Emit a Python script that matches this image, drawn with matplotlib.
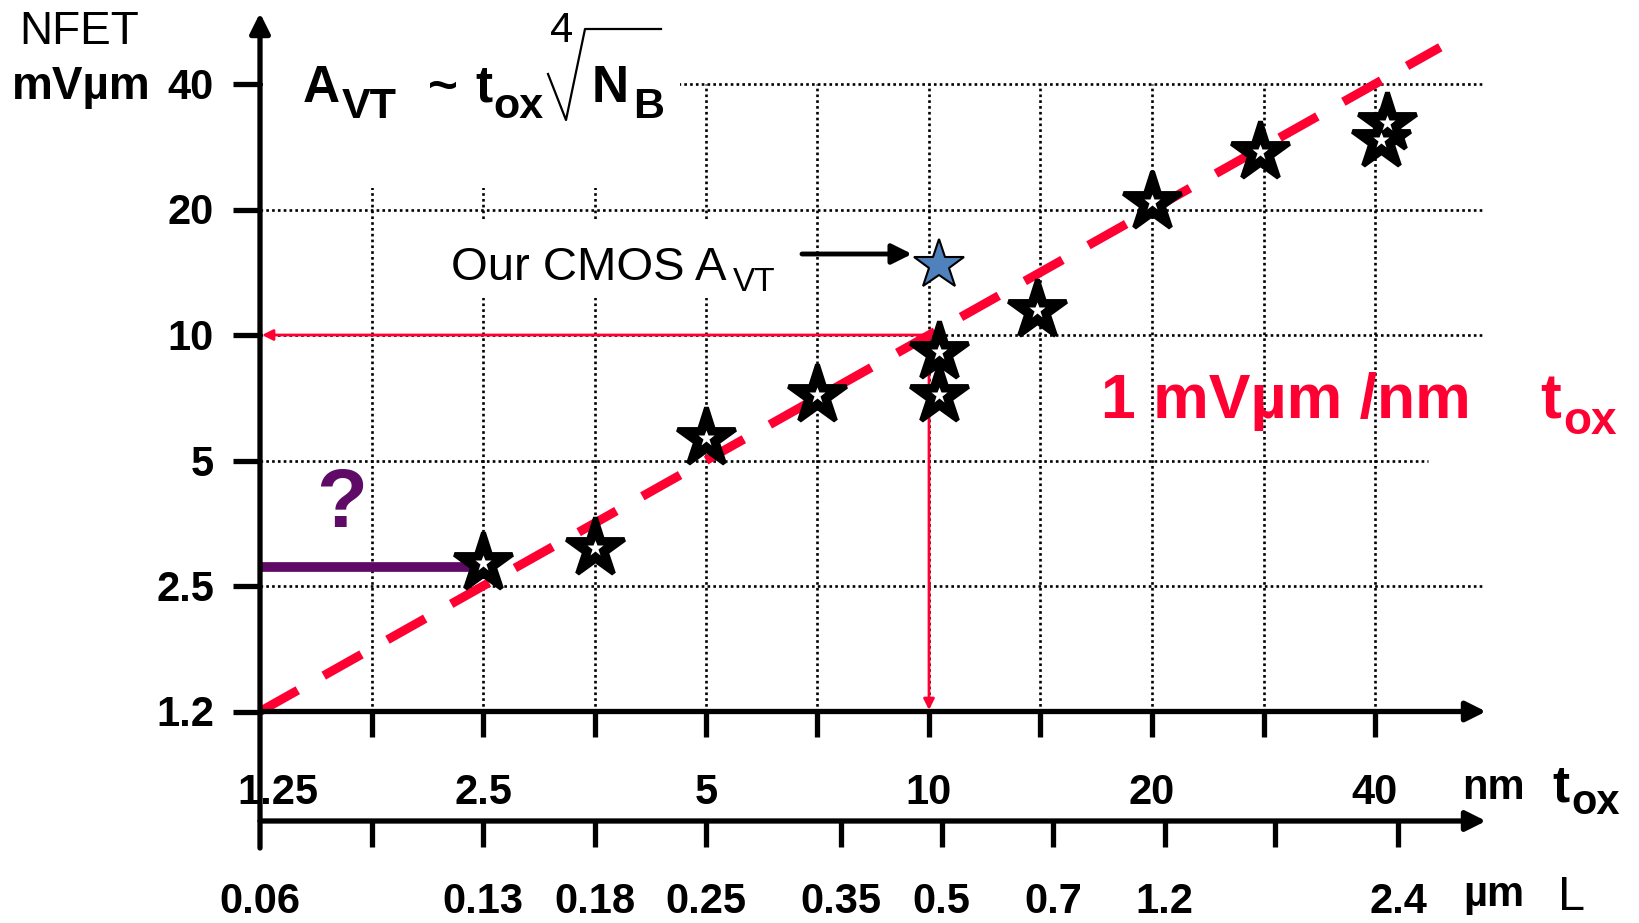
import numpy as np
import matplotlib
matplotlib.use('Agg')
import matplotlib.pyplot as plt
from matplotlib.patches import Rectangle
from matplotlib.lines import Line2D

plt.rcParams['font.family'] = ['Liberation Sans', 'DejaVu Sans']

# ---------------- data ----------------
tox_ticks = [1.25, 1.77, 2.5, 3.54, 5, 7.07, 10, 14.1, 20, 28.3, 40]
tox_labels = ['1.25', '', '2.5', '', '5', '', '10', '', '20', '', '40']
L_ticks = [1.25, 1.77, 2.5, 3.54, 5, 7.6, 10.4, 14.7, 20.8, 29.3, 43.0]
L_labels = ['0.06', '', '0.13', '0.18', '0.25', '0.35', '0.5', '0.7', '1.2', '', '2.4']
avt_ticks = [1.25, 2.5, 5, 10, 20, 40]
avt_labels = ['1.2', '2.5', '5', '10', '20', '40']

star_tox = [2.5, 3.54, 5.0, 7.07, 10.3, 10.3, 14.0, 20.0, 28.0, 41.5, 40.8]
star_avt = [2.84, 3.08, 5.65, 7.17, 9.12, 7.17, 11.5, 20.9, 27.5, 32.2, 29.3]
ours_tox = [10.3]
ours_avt = [14.7]
trend_tox = [1.25, 49.0]
trend_avt = [1.25, 49.0]
guide_tox = 10
guide_avt = 10
target_tox = [1.25, 2.41]
target_avt = [2.78, 2.78]

# ---------------- layout ----------------
W, H = 1640, 923
X0, SX = 260.0, 223.0      # px of tox=1.25, px per doubling
Y0, SY = 711.5, 125.5      # px (from top) of A=1.25, px per doubling


def px2x(px):
    return 1.25 * 2 ** ((px - X0) / SX)


def py2y(py):
    return 1.25 * 2 ** ((Y0 - py) / SY)


RED = '#ff0033'
PURPLE = '#5e0a66'

fig = plt.figure(figsize=(W / 100, H / 100), dpi=100)
ax = fig.add_axes([0, 0, 1, 1])
ax.set_xscale('log', base=2)
ax.set_yscale('log', base=2)
ax.set_xlim(px2x(0), px2x(W))
ax.set_ylim(py2y(H), py2y(0))
ax.axis('off')

dots = (0, (1, 1.2))
# grid
for a in avt_ticks[1:]:
    xend = px2x(1428) if a == 5 else px2x(1483)
    ax.plot([tox_ticks[0], xend], [a, a], color='k', lw=1.9, ls=dots, zorder=1)
for t in tox_ticks[1:]:
    ax.plot([t, t], [avt_ticks[0], avt_ticks[-1]], color='k', lw=1.9, ls=dots, zorder=1)

# white backgrounds behind annotations
ax.add_patch(Rectangle((263 / W, 1 - 188 / H), (680 - 263) / W, 188 / H,
                       transform=fig.transFigure, fc='white', ec='none', zorder=2))
ax.add_patch(Rectangle((440 / W, 1 - 298 / H), (795 - 440) / W, (298 - 222) / H,
                       transform=fig.transFigure, fc='white', ec='none', zorder=2))

# trend line
ax.plot(trend_tox, trend_avt, color=RED, lw=6.5, ls=(0, (4.8, 3.3)), zorder=3)

# red guide arrows
ap_red = dict(arrowstyle='-|>', color=RED, lw=2.0, mutation_scale=16, shrinkA=0, shrinkB=0)
ax.annotate('', xy=(px2x(262), guide_avt), xytext=(guide_tox, guide_avt), arrowprops=ap_red, zorder=4)
ax.annotate('', xy=(guide_tox, py2y(710)), xytext=(guide_tox, guide_avt), arrowprops=ap_red, zorder=4)

# purple target line
ax.plot(target_tox, target_avt, color=PURPLE, lw=7, solid_capstyle='butt', zorder=4)

# stars
ax.plot(star_tox, star_avt, ls='none', marker='*', ms=44, mfc='k', mec='k', mew=3.5, zorder=5)
ax.plot(star_tox, star_avt, ls='none', marker='*', ms=12, mfc='white', mec='none', zorder=6)
ax.plot(ours_tox, ours_avt, ls='none', marker='*', ms=38, mfc='#4f81bd', mec='k', mew=1.5, zorder=6)

# arrow to our star
ax.annotate('', xy=(px2x(912), py2y(254)), xytext=(px2x(802), py2y(254)),
            arrowprops=dict(arrowstyle='-|>', color='k', lw=3.5, mutation_scale=30,
                            shrinkA=0, shrinkB=0), zorder=6)

# axes
ap_ax = dict(arrowstyle='-|>', color='k', lw=3.8, mutation_scale=30, shrinkA=0, shrinkB=0)
yL = py2y(821)
ax.annotate('', xy=(px2x(1486), avt_ticks[0]), xytext=(tox_ticks[0], avt_ticks[0]), arrowprops=ap_ax, zorder=7)
ax.annotate('', xy=(px2x(1486), yL), xytext=(tox_ticks[0], yL), arrowprops=ap_ax, zorder=7)
ax.annotate('', xy=(tox_ticks[0], py2y(13)), xytext=(tox_ticks[0], py2y(848)), arrowprops=ap_ax, zorder=7)
ax.vlines(tox_ticks[1:], py2y(737), avt_ticks[0], color='k', lw=3.8, zorder=7)
ax.vlines(L_ticks[1:], py2y(847), yL, color='k', lw=3.8, zorder=7)
ax.hlines(avt_ticks, px2x(233), tox_ticks[0], color='k', lw=3.8, zorder=7)

# tick labels
for i, (t, lab) in enumerate(zip(tox_ticks, tox_labels)):
    xx = px2x(X0 + 18) if i == 0 else t
    ax.text(xx, py2y(804), lab, ha='center', va='baseline', fontsize=30, fontweight='bold', zorder=8)
for t, lab in zip(L_ticks, L_labels):
    ax.text(t, py2y(913), lab, ha='center', va='baseline', fontsize=30, fontweight='bold', zorder=8)
for a, lab in zip(avt_ticks, avt_labels):
    ax.text(px2x(214), a * 2 ** (-15 / SY), lab, ha='right', va='baseline', fontsize=30,
            fontweight='bold', zorder=8)


def T(x, y, s, size, weight='bold', color='k', ha='left'):
    fig.text(x / W, 1 - y / H, s, fontsize=size, fontweight=weight, color=color,
             ha=ha, va='baseline')


T(19, 44, 'NFET', 33, 'normal')
T(12, 99, 'mVµm', 33)

# formula  A_VT ~ t_ox 4th-root(N_B)
T(303, 102, 'A', 37)
T(342, 118, 'VT', 31)
T(428, 102, '~', 37)
T(475, 102, 't', 37)
T(493, 118, 'ox', 31)
T(592, 102, 'N', 37)
T(633, 118, 'B', 31)
T(562, 42, '4', 30, 'normal', ha='center')
rx = np.array([548, 566, 585, 661])
ry = np.array([74, 120, 29, 29])
fig.add_artist(Line2D(rx / W, 1 - ry / H, color='k', lw=1.6, transform=fig.transFigure))

# Our CMOS
T(451, 280, 'Our CMOS A', 34, 'normal')
T(733, 291, 'VT', 24, 'normal')

# question mark
T(342, 527, '?', 60, 'bold', PURPLE, ha='center')

# red slope label
T(1101, 418, '1 mVµm /nm', 45, 'bold', RED)
T(1540, 418, 't', 45, 'bold', RED)
T(1563, 434, 'ox', 33, 'bold', RED)

# axis unit labels
T(1462, 799, 'nm', 30)
T(1552, 801, 't', 37)
T(1571, 814, 'ox', 30)
T(1463, 906, 'µm', 30)
T(1558, 910, 'L', 35, 'normal')

fig.savefig('out.png', dpi=100)
